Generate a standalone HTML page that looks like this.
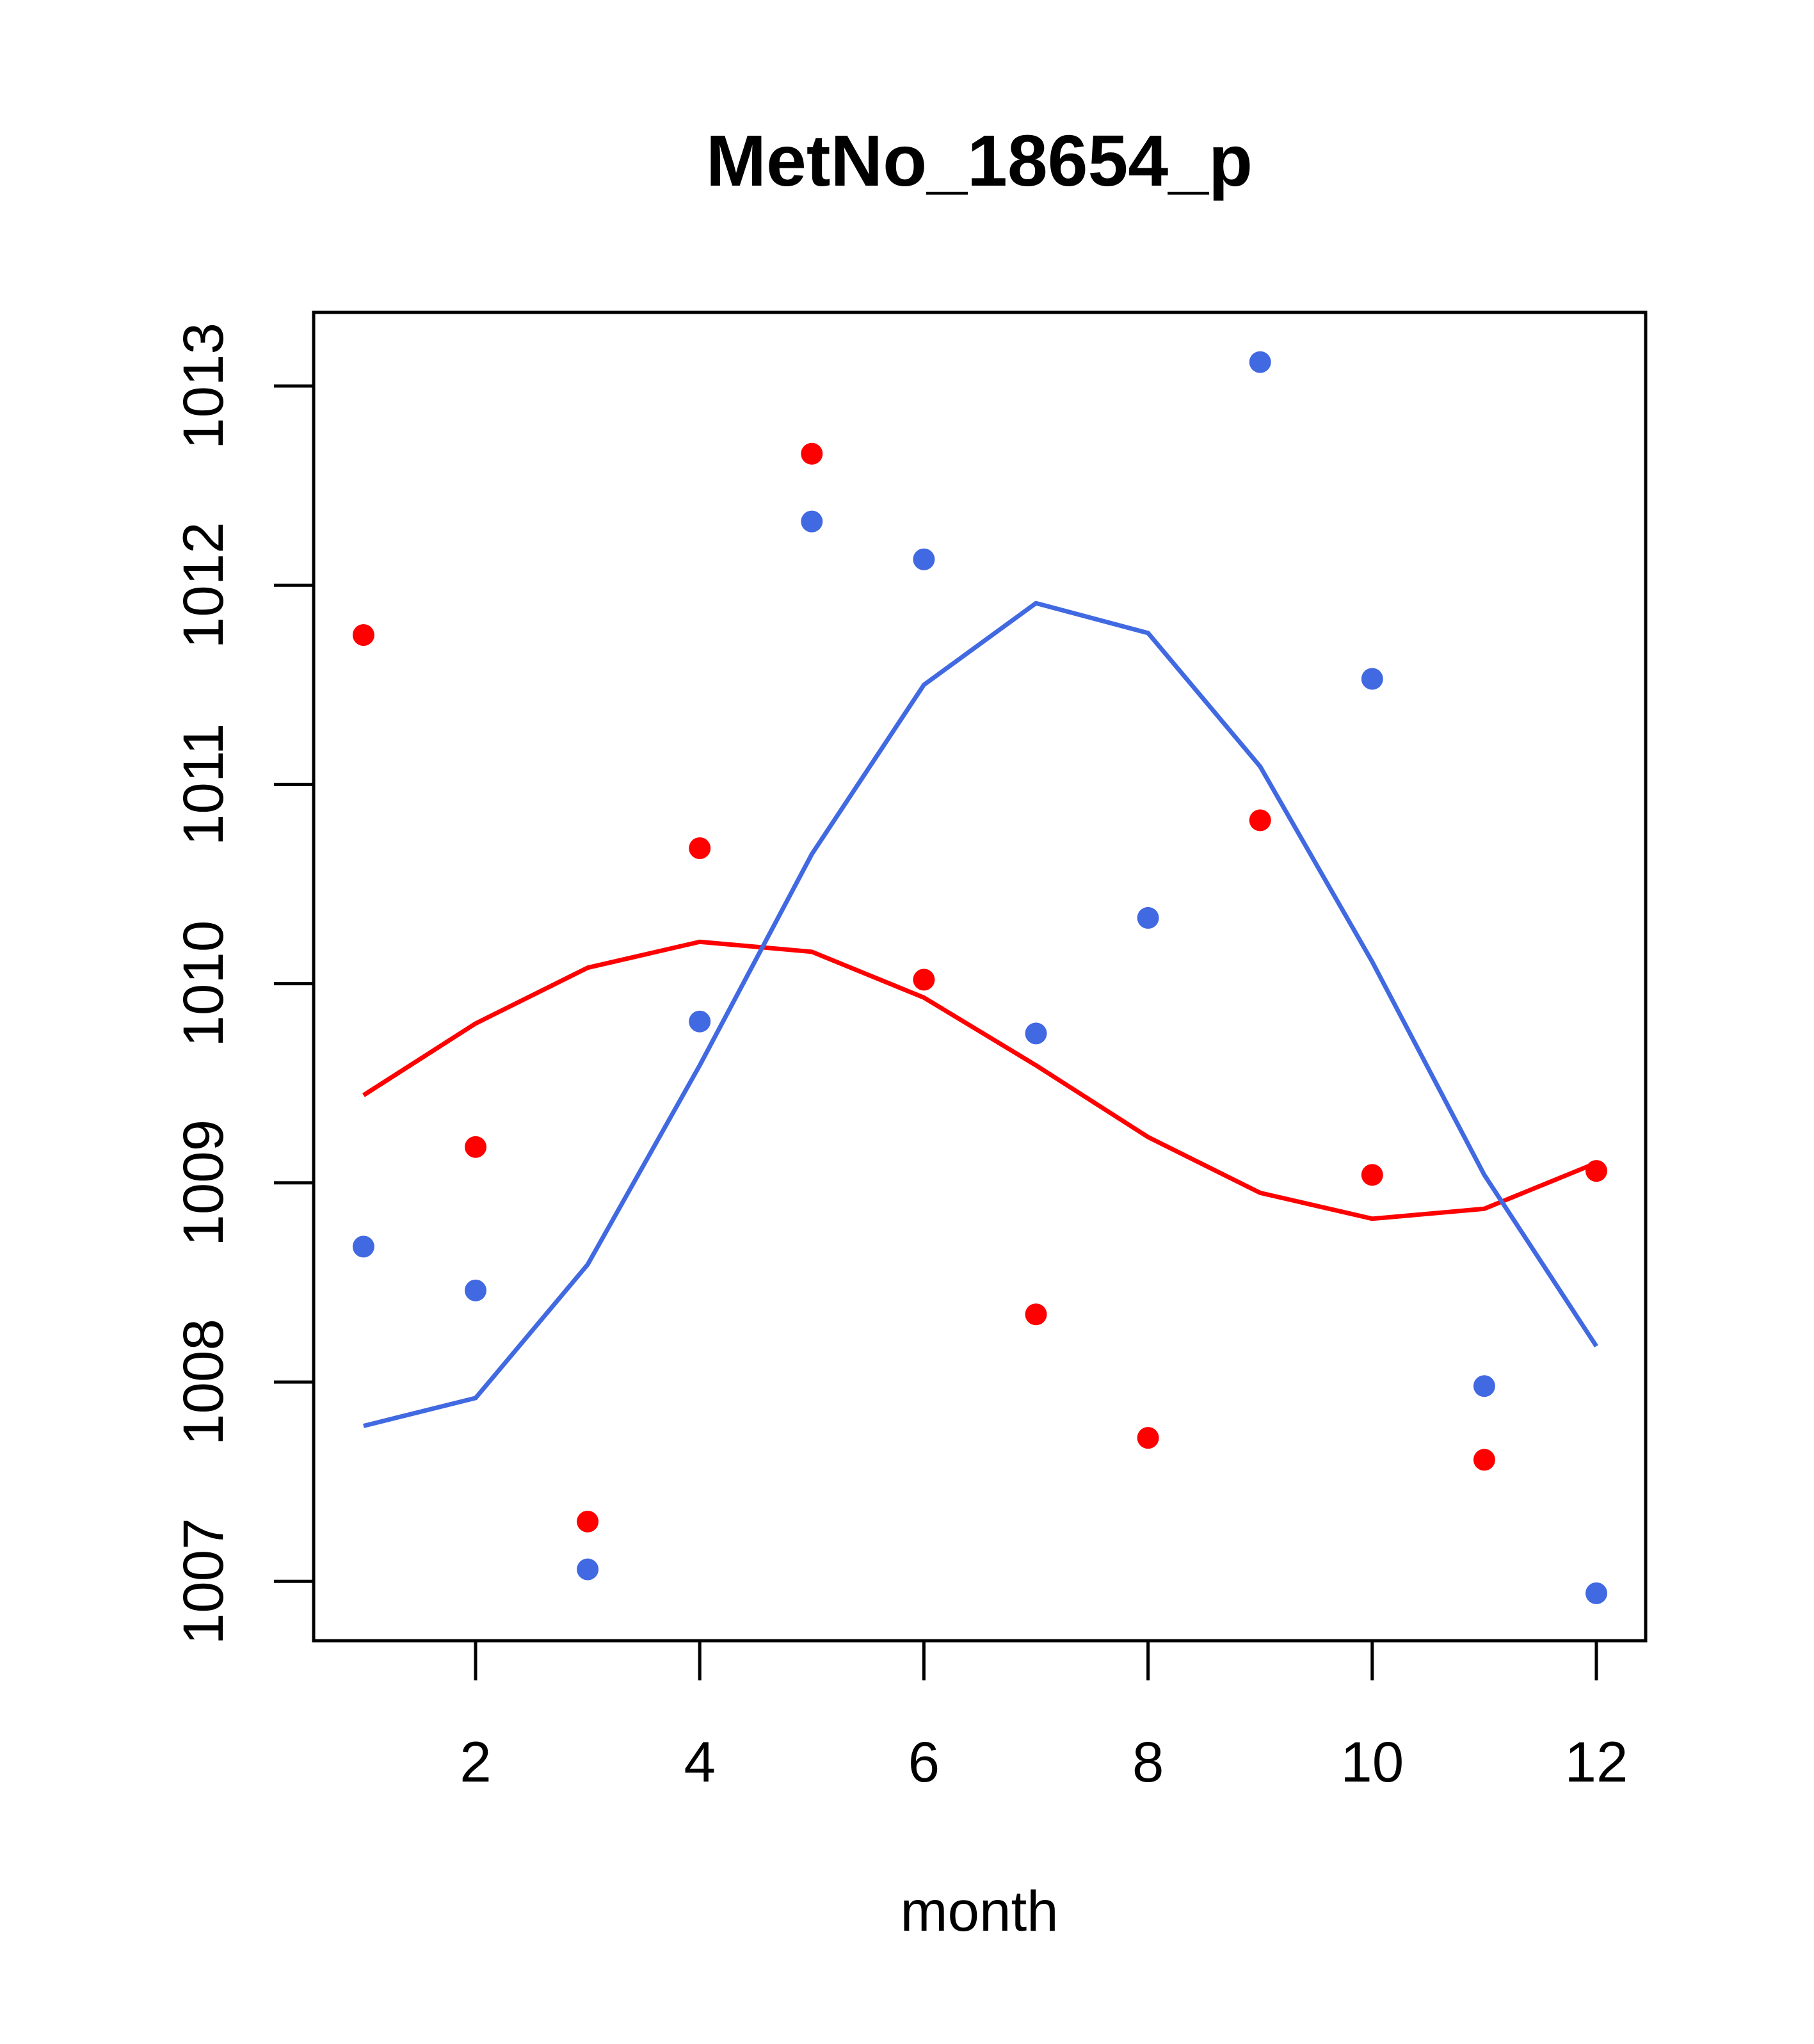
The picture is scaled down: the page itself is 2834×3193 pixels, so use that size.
<!DOCTYPE html>
<html><head><meta charset="utf-8"><style>html,body{margin:0;padding:0;background:#fff}</style></head>
<body>
<svg id="chart" width="2834" height="3188" xmlns="http://www.w3.org/2000/svg" font-family="Liberation Sans, sans-serif">
<rect width="2834" height="3188" fill="#fff"/>
<text x="1530" y="290" font-size="113" font-weight="bold" text-anchor="middle">MetNo_18654_p</text>
<text x="1530" y="3016" font-size="89" text-anchor="middle">month</text>
<rect x="490" y="488" width="2081" height="2075" fill="none" stroke="#000" stroke-width="5"/>
<g id="axes"></g>
<g id="marks"></g>
</svg>
<script>
const months = [1,2,3,4,5,6,7,8,9,10,11,12];
const redPoints = [1011.75,1009.18,1007.30,1010.68,1012.66,1010.02,1008.34,1007.72,1010.82,1009.04,1007.61,1009.06];
const bluePoints = [1008.68,1008.46,1007.06,1009.81,1012.32,1012.13,1009.75,1010.33,1013.12,1011.53,1007.98,1006.94];
const redLine = [1009.44,1009.80,1010.08,1010.21,1010.16,1009.93,1009.59,1009.23,1008.95,1008.82,1008.87,1009.10];
const blueLine = [1007.78,1007.92,1008.59,1009.59,1010.65,1011.50,1011.91,1011.76,1011.09,1010.11,1009.04,1008.18];
const xTicks = [2,4,6,8,10,12];
const yTicks = [1007,1008,1009,1010,1011,1012,1013];

const NS = "http://www.w3.org/2000/svg";
function xs(m){ return 743 + (m-2)*175.1; }
function ys(v){ return 603 + (1013-v)*311.2; }
const axes = document.getElementById('axes');
const marks = document.getElementById('marks');
function mk(tag, attrs, parent){ const e=document.createElementNS(NS,tag); for(const k in attrs) e.setAttribute(k,attrs[k]); parent.appendChild(e); return e; }

xTicks.forEach(t=>{
  const l = mk('line',{x1:xs(t),x2:xs(t),y1:2563,y2:2625,stroke:'#000','stroke-width':5},axes);
  
  
  const tx = mk('text',{x:xs(t),y:2783,'font-size':89,'text-anchor':'middle'},axes);
  tx.textContent = t;
  
  
});
yTicks.forEach(t=>{
  const l = mk('line',{x1:428,x2:490,y1:ys(t),y2:ys(t),stroke:'#000','stroke-width':5},axes);
  
  
  const tx = mk('text',{x:0,y:0,'font-size':89,'text-anchor':'middle',transform:`translate(348,${ys(t)}) rotate(-90)`},axes);
  tx.textContent = t;
  
  
});

function line(vals,color,name){
  const p = mk('polyline',{points:vals.map((v,i)=>xs(months[i])+','+ys(v)).join(' '),fill:'none',stroke:color,'stroke-width':7,'stroke-linejoin':'round'},marks);
  
  
}
function pts(vals,color,name){
  vals.forEach((v,i)=>{
    const c = mk('circle',{cx:xs(months[i]),cy:ys(v),r:17,fill:color},marks);
    
    
  });
}
line(redLine,'#ff0000','red-line');
line(blueLine,'#4169e1','blue-line');
pts(redPoints,'#ff0000','red-point');
pts(bluePoints,'#4169e1','blue-point');
</script>
</body></html>
